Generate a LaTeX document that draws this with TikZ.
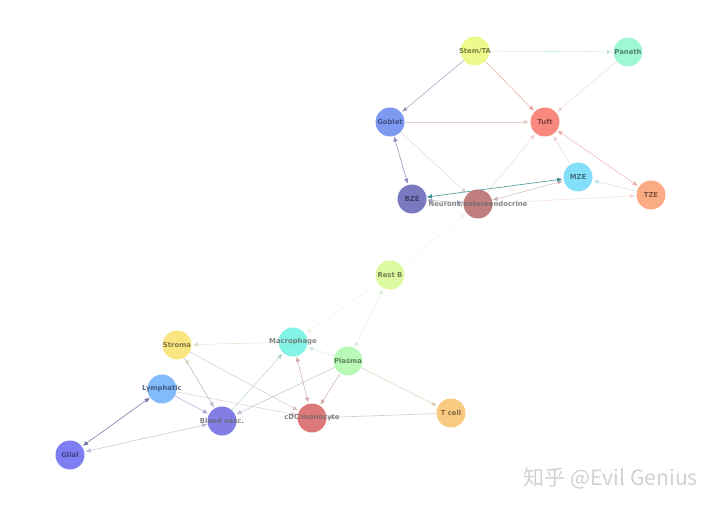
\documentclass[tikz,border=0pt]{standalone}
\usepackage{fontspec}
\setsansfont{DejaVu Sans}
\newfontfamily\cjk{Noto Sans CJK SC}
\usetikzlibrary{arrows.meta,backgrounds}
\definecolor{stemcol}{RGB}{236,250,128}
\definecolor{panethcol}{RGB}{150,246,206}
\definecolor{gobletcol}{RGB}{112,142,240}
\definecolor{tuftcol}{RGB}{248,124,112}
\definecolor{mzecol}{RGB}{118,218,250}
\definecolor{tzecol}{RGB}{250,162,118}
\definecolor{bzecol}{RGB}{106,106,184}
\definecolor{neurocol}{RGB}{186,112,112}
\definecolor{restbcol}{RGB}{218,250,150}
\definecolor{macrocol}{RGB}{118,242,226}
\definecolor{stromacol}{RGB}{250,226,118}
\definecolor{plasmacol}{RGB}{178,250,176}
\definecolor{lymphcol}{RGB}{118,178,250}
\definecolor{bloodcol}{RGB}{116,112,226}
\definecolor{cdccol}{RGB}{218,106,106}
\definecolor{tcellcol}{RGB}{250,196,118}
\definecolor{glialcol}{RGB}{112,112,242}

\begin{document}
\begin{tikzpicture}[x=0.02cm, y=-0.02cm, >={Latex[length=3pt,width=2.6pt]},
    cell/.style={circle, minimum size=0.58cm, inner sep=0pt, fill opacity=0.9},
    lbl/.style={font=\sffamily\bfseries\fontsize{3.9}{4.5}\selectfont, text opacity=0.8},
    link/.style={line width=0.35pt, shorten >=0.5pt}]
    \useasboundingbox (0,0) rectangle (720,507);
    % Epithelial cells
    \node[cell, fill=stemcol, label={[lbl, text=stemcol!40!black]center:Stem/TA}] (stem) at (475,51) {};
    \node[cell, fill=panethcol, label={[lbl, text=panethcol!40!black]center:Paneth}] (paneth) at (628,52) {};
    \node[cell, fill=gobletcol, label={[lbl, text=gobletcol!45!black]center:Goblet}] (goblet) at (390,122) {};
    \node[cell, fill=tuftcol, label={[lbl, text=tuftcol!40!black]center:Tuft}] (tuft) at (545,122) {};
    \node[cell, fill=mzecol, label={[lbl, text=mzecol!40!black]center:MZE}] (mze) at (578,177) {};
    \node[cell, fill=tzecol, label={[lbl, text=tzecol!40!black]center:TZE}] (tze) at (651,195) {};
    \node[cell, fill=bzecol, label={[lbl, text=bzecol!45!black]center:BZE}] (bze) at (412,199) {};
    \node[cell, fill=neurocol, label={[lbl, text=black!60]center:Neurons/enteroendocrine}] (neuro) at (478,204) {};
    % Immune and stromal cells
    \node[cell, fill=restbcol, label={[lbl, text=restbcol!40!black]center:Rest B}] (restb) at (390,275) {};
    \node[cell, fill=macrocol, label={[lbl, text=black!60]center:Macrophage}] (macro) at (293,342) {};
    \node[cell, fill=stromacol, label={[lbl, text=stromacol!40!black]center:Stroma}] (stroma) at (177,345) {};
    \node[cell, fill=plasmacol, label={[lbl, text=plasmacol!40!black]center:Plasma}] (plasma) at (348,361) {};
    \node[cell, fill=lymphcol, label={[lbl, text=lymphcol!40!black]center:Lymphatic}] (lymph) at (162,389) {};
    \node[cell, fill=bloodcol, label={[lbl, text=black!60]center:Blood vasc.}] (blood) at (222,421) {};
    \node[cell, fill=cdccol, label={[lbl, text=black!60]center:cDC/monocyte}] (cdc) at (312,418) {};
    \node[cell, fill=tcellcol, label={[lbl, text=tcellcol!40!black]center:T cell}] (tcell) at (451,413) {};
    \node[cell, fill=glialcol, label={[lbl, text=glialcol!45!black]center:Glial}] (glial) at (70,455) {};
    \begin{scope}[on background layer]
    % Epithelial links
    \draw[link, ->, panethcol!70!gray, opacity=0.4] (stem) -- (paneth);
    \draw[link, ->, bzecol!60!gray, opacity=0.6] (stem) -- (goblet);
    \draw[link, ->, tuftcol!80!gray, opacity=0.6] (stem) -- (tuft);
    \draw[link, ->, tuftcol!60!gray, opacity=0.25] (paneth) -- (tuft);
    \draw[link, ->, tuftcol!60!gray, opacity=0.35] (goblet) -- (tuft);
    \draw[link, <->, bzecol!70!gray, opacity=0.7] (goblet) -- (bze);
    \draw[link, ->, neurocol!60!gray, opacity=0.25] (goblet) -- (neuro);
    \draw[link, ->, tuftcol!60!gray, opacity=0.25] (neuro) -- (tuft);
    \draw[link, ->, tuftcol!60!gray, opacity=0.25] (mze) -- (tuft);
    \draw[link, <->, tuftcol!80!gray, opacity=0.5] (tuft) -- (tze);
    \draw[link, <->, teal!80!gray, opacity=0.8] (bze) -- (mze);
    \draw[link, <->, neurocol!70!gray, opacity=0.45] (neuro) -- (mze);
    \draw[link, <->, bzecol!60!gray, opacity=0.5] (bze) -- (neuro);
    \draw[link, ->, mzecol!70!gray, opacity=0.35] (tze) -- (mze);
    \draw[link, ->, tzecol!80!gray, opacity=0.3] (neuro) -- (tze);
    % Links across the gap
    \draw[link, ->, restbcol!70!gray, opacity=0.2] (restb) -- (neuro);
    \draw[link, <->, plasmacol!70!gray, opacity=0.3] (plasma) -- (restb);
    \draw[link, ->, restbcol!70!gray, opacity=0.2] (restb) -- (macro);
    % Immune and stromal links
    \draw[link, ->, stromacol!50!gray, opacity=0.35] (macro) -- (stroma);
    \draw[link, ->, bloodcol!50!gray, opacity=0.4] (stroma) -- (blood);
    \draw[link, ->, cdccol!50!gray, opacity=0.35] (stroma) -- (cdc);
    \draw[link, <->, bzecol!80!black, opacity=0.75] (lymph) -- (glial);
    \draw[link, ->, bloodcol!60!gray, opacity=0.55] (lymph) -- (blood);
    \draw[link, ->, cdccol!50!gray, opacity=0.3] (lymph) -- (cdc);
    \draw[link, <->, bloodcol!50!gray, opacity=0.4] (blood) -- (glial);
    \draw[link, ->, macrocol!40!gray, opacity=0.45] (blood) -- (macro);
    \draw[link, ->, stromacol!50!gray, opacity=0.3] (blood) -- (stroma);
    \draw[link, ->, bloodcol!50!gray, opacity=0.4] (plasma) -- (blood);
    \draw[link, <->, cdccol!50!gray, opacity=0.5] (macro) -- (cdc);
    \draw[link, ->, cdccol!70!gray, opacity=0.5] (plasma) -- (cdc);
    \draw[link, ->, macrocol!60!gray, opacity=0.3] (plasma) -- (macro);
    \draw[link, ->, tcellcol!60!gray, opacity=0.45] (plasma) -- (tcell);
    \draw[link, ->, cdccol!40!gray, opacity=0.4] (tcell) -- (cdc);
    \end{scope}
    % Watermark
    \node[text=black!18, font=\cjk\fontsize{12}{14}\selectfont, anchor=east] (mark) at (704,478) {知乎 @Evil Genius};
\end{tikzpicture}
\end{document}
